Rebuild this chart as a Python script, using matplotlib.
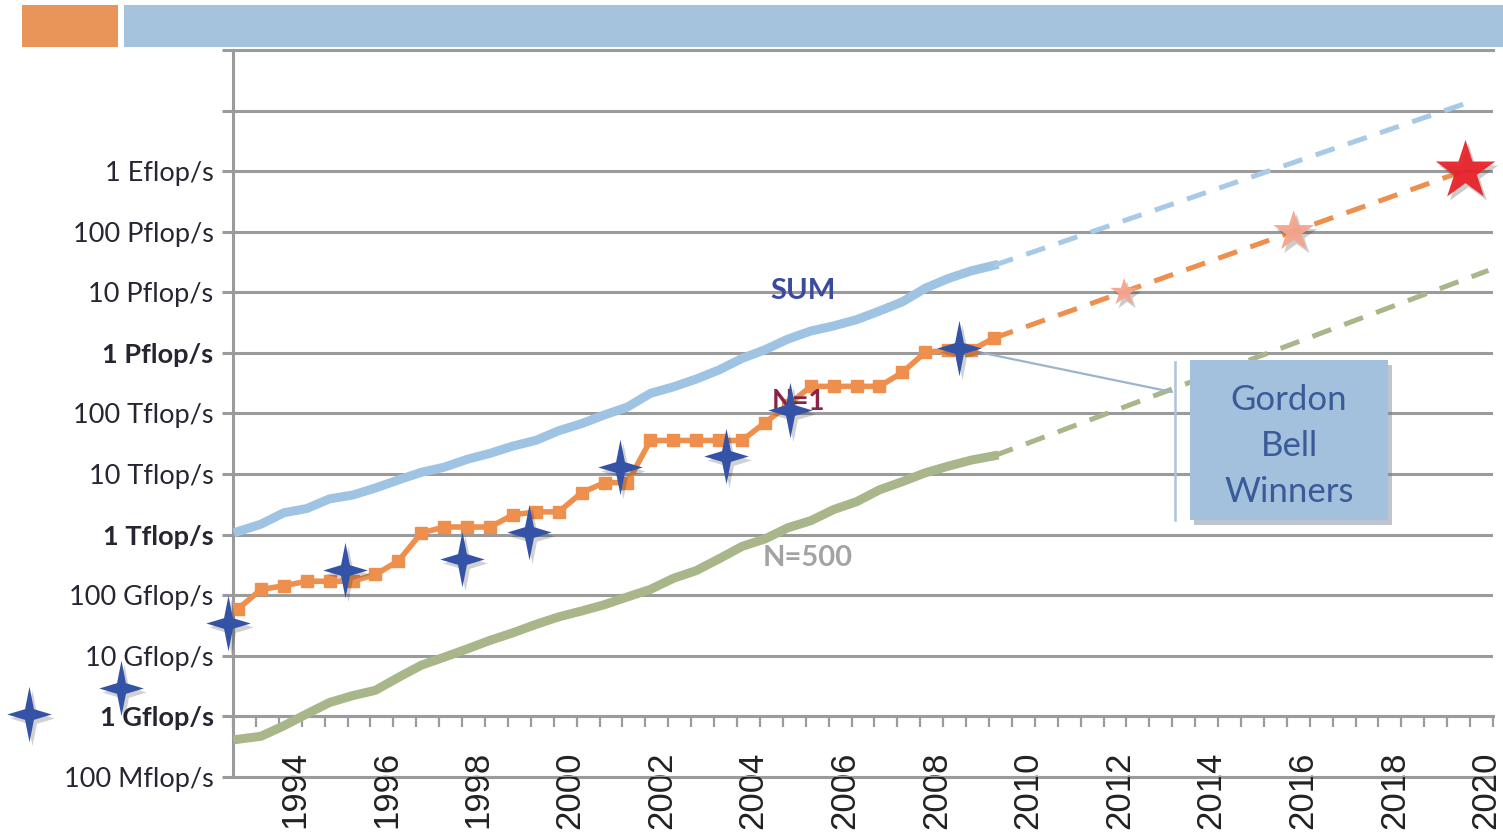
import numpy as np
import matplotlib.pyplot as plt
from matplotlib.path import Path
from matplotlib.patches import Rectangle
from matplotlib.lines import Line2D
import matplotlib.transforms as mtransforms

# TOP500 lists, June and November, from Jun 1993 to Nov 2009
lists = [f"{m} {y}" for y in range(1993, 2010) for m in ("Jun", "Nov")]

# Aggregate performance of the whole list (Tflop/s)
sum_tflops = [1.13, 1.49, 2.3, 2.7, 3.9, 4.5, 5.9, 8.0, 10.7, 13.0,
              17.5, 22, 29, 36, 52, 68, 95, 128, 215, 275,
              370, 525, 810, 1130, 1690, 2300, 2790, 3540, 4920, 6970,
              11700, 16900, 22600, 27900]

# Fastest system, N=1 (Tflop/s)
n1_tflops = [0.0597, 0.1245, 0.1434, 0.1704, 0.1704, 0.1704, 0.2204, 0.3682, 1.068, 1.338,
             1.338, 1.338, 2.121, 2.379, 2.379, 4.938, 7.226, 7.226, 35.86, 35.86,
             35.86, 35.86, 35.86, 70.72, 136.8, 280.6, 280.6, 280.6, 280.6, 478.2,
             1026, 1105, 1105, 1759]

# Last system on the list, N=500 (Gflop/s)
n500_gflops = [0.42, 0.47, 0.70, 1.1, 1.7, 2.2, 2.7, 4.4, 7.0, 9.5,
               13, 18, 24, 33, 44, 55, 70, 94, 125, 190,
               255, 400, 640, 850, 1300, 1700, 2600, 3500, 5500, 7500,
               10500, 13500, 17000, 20000]

# Where each trend is projected to (year, flop/s)
sum_proj_end = (2019.6, 1.35e19)
n1_proj_end = (2019.5, 1.0e18)
n500_proj_end = (2020.05, 2.3e16)

# Projected N=1 milestones: 10 Pflop/s, 100 Pflop/s, 1 Eflop/s
milestone_years = [2012.1, 2015.8, 2019.55]
milestone_flops = [1e16, 1e17, 1e18]

# Gordon Bell prize winners
gb_years = [1988.2, 1990.2, 1992.55, 1995.1, 1997.65, 1999.1, 2001.1, 2003.4, 2004.8, 2008.5]
gb_flops = [1.1e9, 3e9, 3.5e10, 2.6e11, 4e11, 1.1e12, 1.3e13, 2e13, 1.15e14, 1.2e15]

perf_labels = ["100 Mflop/s", "1 Gflop/s", "10 Gflop/s", "100 Gflop/s", "1 Tflop/s",
               "10 Tflop/s", "100 Tflop/s", "1 Pflop/s", "10 Pflop/s", "100 Pflop/s",
               "1 Eflop/s", "", ""]
bold_labels = {"1 Gflop/s", "1 Tflop/s", "1 Pflop/s"}
year_labels = list(range(1994, 2021, 2))

W, H = 1503, 834
GRID = "#9b9b9b"
C_SUM, C_N1, C_N500 = "#9fc4e3", "#ee8f4e", "#a9b68a"
C_GB = "#3553a6"

fig = plt.figure(figsize=(W / 100, H / 100), dpi=100)
ax = fig.add_axes([233 / W, 57 / H, 1260 / W, 727 / H])
ax.set_yscale("log")
ax.set_ylim(1e8, 1e20)
ax.set_xlim(1992.65, 2020.15)

# y axis: one gridline per decade
ax.set_yticks([10.0 ** e for e in range(8, 21)])
ax.set_yticklabels(perf_labels)
ax.yaxis.set_minor_locator(plt.NullLocator())
ax.grid(axis="y", color=GRID, lw=2.2, zorder=0)
ax.tick_params(axis="y", length=8, width=2.2, color=GRID, pad=6,
               labelsize=19.5, labelcolor="#262632")
for lbl in ax.get_yticklabels():
    lbl.set_fontfamily("Lato")
    if lbl.get_text() in bold_labels:
        lbl.set_fontweight("bold")

# x axis hangs off the 1 Gflop/s line
ax.spines["top"].set_visible(False)
ax.spines["right"].set_visible(False)
ax.spines["left"].set_color(GRID)
ax.spines["left"].set_linewidth(2.2)
ax.spines["bottom"].set_position(("data", 1e9))
ax.spines["bottom"].set_color(GRID)
ax.spines["bottom"].set_linewidth(2.2)
ax.axhline(1e8, color=GRID, lw=2.2, clip_on=False, zorder=0)
ax.axhline(1e20, color=GRID, lw=2.2, clip_on=False, zorder=0)

ax.set_xticks(year_labels)
ax.set_xticklabels([str(y) for y in year_labels], rotation=90,
                   fontfamily="Liberation Sans", color="#222222")
ax.set_xticks(np.arange(1992.65, 2020.2, 0.5), minor=True)
ax.tick_params(axis="x", which="major", length=0, pad=25, labelsize=25)
ax.tick_params(axis="x", which="minor", length=8, width=1.6, color=GRID, direction="out")

# measured TOP500 trends
x_lists = 1992.76 + 0.5 * np.arange(len(lists))
sum_vals = np.array(sum_tflops) * 1e12
n1_vals = np.array(n1_tflops) * 1e12
n500_vals = np.array(n500_gflops) * 1e9

ax.plot(x_lists, sum_vals, color=C_SUM, lw=6.5, zorder=3)
ax.plot(x_lists, n500_vals, color=C_N500, lw=6.5, zorder=3)
ax.plot(x_lists, n1_vals, color=C_N1, lw=4, marker="s", ms=9, zorder=4)

# projections
dash = (0, (4, 2.8))
for vals, end, col in [(sum_vals, sum_proj_end, "#a8cae6"),
                       (n1_vals, n1_proj_end, C_N1),
                       (n500_vals, n500_proj_end, C_N500)]:
    ax.plot([x_lists[-1], end[0]], [vals[-1], end[1]], ls=dash, lw=3.6,
            color=col, zorder=3)

# milestone stars
shadow = mtransforms.offset_copy(ax.transData, fig=fig, x=3, y=-4, units="dots")
ms_sizes = [21 ** 2, 31 ** 2, 45 ** 2]
ms_colors = ["#f4a58c", "#f4a58c", "#e8232b"]
ax.scatter(milestone_years, milestone_flops, s=ms_sizes, marker="*", color="black",
           alpha=0.2, lw=0, transform=shadow, zorder=5, clip_on=False)
ax.scatter(milestone_years, milestone_flops, s=ms_sizes, marker="*", c=ms_colors,
           alpha=0.95, lw=0, zorder=6, clip_on=False)

# series labels
ax.text(2005.1, 1.05e16, "SUM", fontsize=21, fontweight="bold", color="#3b4a9e",
        fontfamily="Lato", ha="center", va="center", zorder=5)
ax.text(2005.0, 1.55e14, "N=1", fontsize=20, fontweight="bold", color="#8b2346",
        fontfamily="Lato", ha="center", va="center", zorder=5)
ax.text(2005.2, 4.1e11, "N=500", fontsize=21, fontweight="bold", color="#a3a3a3",
        fontfamily="Lato", ha="center", va="center", zorder=5)

# Gordon Bell winners: four-point stars with a fat centre
sparkle = Path([(0, 1.25), (0.2, 0.24), (1, 0), (0.2, -0.24), (0, -1.25),
                (-0.2, -0.24), (-1, 0), (-0.2, 0.24), (0, 1.25)],
               [Path.MOVETO] + [Path.LINETO] * 7 + [Path.CLOSEPOLY])
ax.scatter(gb_years, gb_flops, s=40 ** 2, marker=sparkle, color="black", alpha=0.18,
           lw=0, transform=shadow, zorder=7, clip_on=False)
ax.scatter(gb_years, gb_flops, s=40 ** 2, marker=sparkle, color=C_GB, lw=0,
           zorder=8, clip_on=False)

# callout box
box_x, box_y, box_w, box_h = 1190 / W, 314 / H, 198 / W, 160 / H
fig.add_artist(Rectangle((box_x + 4 / W, box_y - 5 / H), box_w, box_h,
                         transform=fig.transFigure, color="#6f7f8f", alpha=0.45, lw=0))
fig.add_artist(Rectangle((box_x, box_y), box_w, box_h,
                         transform=fig.transFigure, color="#a3c1dd", lw=0))
fig.text(box_x + box_w / 2, box_y + box_h / 2 - 6 / H, "Gordon\nBell\nWinners",
         ha="center", va="center", fontsize=25, color="#3a5a98", fontfamily="Lato",
         linespacing=1.55)
fig.add_artist(Line2D([1175 / W, 1175 / W], [1 - 362 / H, 1 - 520 / H],
                      transform=fig.transFigure, color="#a9c4dc", lw=1.8))
ax.annotate("", xy=(gb_years[-1], gb_flops[-1]), xytext=(1172 / W, 1 - 392 / H),
            textcoords="figure fraction",
            arrowprops=dict(arrowstyle="-", color="#9db4cb", lw=1.6, shrinkA=0, shrinkB=0))

# header bar
fig.add_artist(Rectangle((22 / W, 1 - 47 / H), 96 / W, 42 / H,
                         transform=fig.transFigure, color="#e9955a", lw=0))
fig.add_artist(Rectangle((124 / W, 1 - 47 / H), 1379 / W, 42 / H,
                         transform=fig.transFigure, color="#a5c3dc", lw=0))

fig.savefig("out.png", dpi=100)
